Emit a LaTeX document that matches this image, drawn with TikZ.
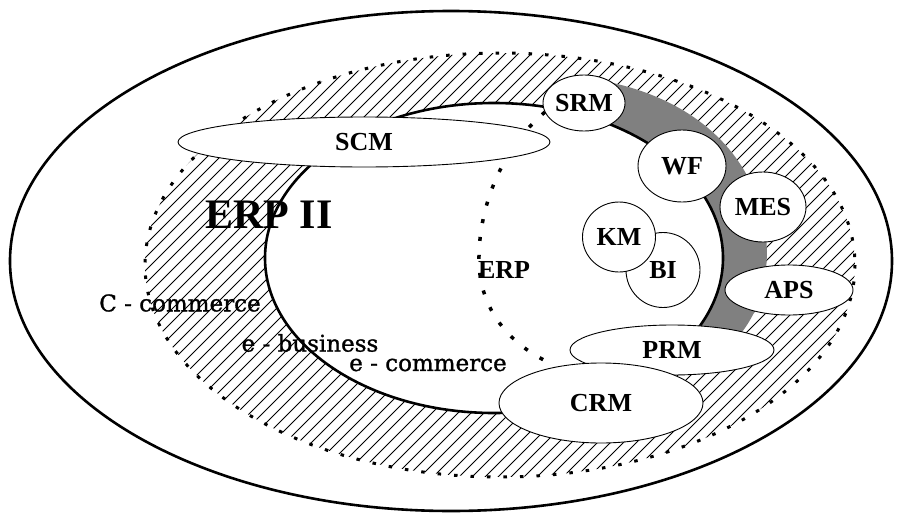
\documentclass[tikz,border=0pt]{standalone}
\usepackage{fontspec}
\setmainfont{Liberation Serif}
\newfontfamily\zonefont[FakeBold=1.2]{DejaVu Serif}
\usetikzlibrary{shapes.geometric}
\begin{document}
\begin{tikzpicture}[x=1pt,y=-1pt,
  oval/.style={ellipse,draw,fill=white,line width=0.9pt,inner sep=0pt,
    font=\fontsize{26}{28}\selectfont\bfseries},
  hatchline/.style={line width=0.75pt},
  zone/.style={inner sep=0pt,font=\zonefont\fontsize{23}{25}\selectfont},
  bigtitle/.style={inner sep=0pt,font=\fontsize{42}{44}\selectfont\bfseries},
  midtitle/.style={inner sep=0pt,font=\fontsize{26}{28}\selectfont\bfseries},
]
\useasboundingbox (0,0) rectangle (897,514);

% C-commerce: outer ellipse
\draw[line width=2.6pt,fill=white] (451,261) ellipse [x radius=441, y radius=250];

% e-business band: hatching clipped to the dotted boundary
\begin{scope}
  \clip (500,265) ellipse [x radius=355, y radius=212];
  \foreach \c in {-520,-507,...,900}
    \draw[hatchline] (\c,520) -- (\c+540,-20);
\end{scope}

% shaded band along the right side of the core
\fill[gray] (598,80) .. controls (690,96) and (752,150) .. (765,228)
  .. controls (771,270) and (762,306) .. (742,332)
  -- (600,332) -- (600,130) -- cycle;

% e-commerce: inner region
\draw[line width=2.6pt,fill=white] (494,258) ellipse [x radius=229, y radius=155];

% ERP boundary
\draw[line width=3.5pt,dash pattern=on 4pt off 14pt]
  (545,112) .. controls (500,150) and (478,210) .. (479,262)
  .. controls (480,310) and (510,345) .. (552,364);

% outer limit of the e-business band
\draw[line width=3pt,dash pattern=on 3.5pt off 13pt]
  (500,265) ellipse [x radius=355, y radius=212];

% modules
\node[oval,minimum width=372,minimum height=50] (scm) at (364,142) {SCM};
\node[oval,minimum width=82,minimum height=56] (srm) at (584,103) {SRM};
\node[oval,minimum width=88,minimum height=72] (wf) at (682,166) {WF};
\node[oval,minimum width=86,minimum height=70] (mes) at (763,207) {MES};
\node[oval,minimum width=74,minimum height=75] (bi) at (663,270) {BI};
\node[oval,minimum width=73,minimum height=70] (km) at (619,237) {KM};
\node[oval,minimum width=128,minimum height=50] (aps) at (789,290) {APS};
\node[oval,minimum width=204,minimum height=50] (prm) at (672,350) {PRM};
\node[oval,minimum width=204,minimum height=80] (crm) at (601,403) {CRM};

% titles
\node[bigtitle] (erp2) at (269,215) {ERP II};
\node[midtitle] (erp) at (504,270) {ERP};

% zone names
\node[zone] (ccom) at (180,303) {C - commerce};
\node[zone] (ebus) at (310,343) {e - business};
\node[zone] (ecom) at (428,365) {e - commerce};
\end{tikzpicture}
\end{document}
